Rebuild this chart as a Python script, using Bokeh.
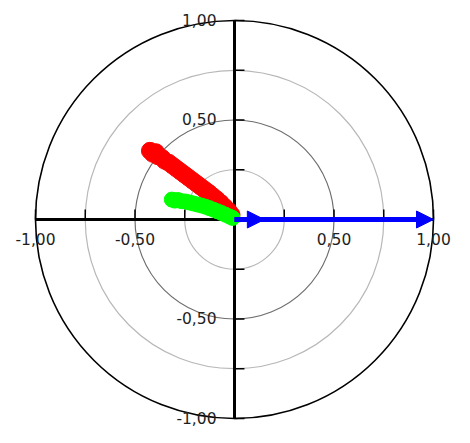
from bokeh.plotting import figure
from bokeh.models import Range1d, ColumnDataSource, Arrow, NormalHead
from bokeh.core.properties import value
from bokeh.embed import file_html
from bokeh.resources import INLINE

# ---- data ----
ring_radii = [0.25, 0.5, 0.75, 1.0]
ring_colors = ["#b8b8b8", "#6e6e6e", "#b8b8b8", "#000000"]
ring_widths = [1.2, 1.2, 1.2, 1.6]

tick_vals = [-1.0, -0.75, -0.5, -0.25, 0.25, 0.5, 0.75, 1.0]
label_vals = [-1.0, -0.5, 0.5, 1.0]
label_text = ["-1,00", "-0,50", "0,50", "1,00"]

red_x = [-0.425, -0.410, -0.395, -0.385, -0.365, -0.350, -0.330, -0.310, -0.290,
         -0.270, -0.250, -0.230, -0.210, -0.190, -0.170, -0.150, -0.130, -0.110,
         -0.090, -0.070, -0.050, -0.030, -0.015]
red_y = [0.345, 0.330, 0.338, 0.318, 0.310, 0.295, 0.285, 0.270, 0.255,
         0.240, 0.225, 0.210, 0.195, 0.180, 0.165, 0.150, 0.135, 0.118,
         0.102, 0.084, 0.064, 0.044, 0.024]

green_x = [-0.315, -0.300, -0.285, -0.265, -0.245, -0.225, -0.205, -0.185, -0.165,
           -0.145, -0.125, -0.105, -0.085, -0.065, -0.045, -0.025, -0.010]
green_y = [0.100, 0.095, 0.098, 0.092, 0.090, 0.085, 0.080, 0.075, 0.070,
           0.064, 0.057, 0.049, 0.041, 0.033, 0.024, 0.015, 0.008]

blue_len = [0.15, 1.0]

# ---- figure ----
R = 199.0
p = figure(width=454, height=427, output_backend="svg", toolbar_location=None,
           x_range=Range1d(-234 / R, 220 / R), y_range=Range1d(-208 / R, 219 / R),
           min_border=0)
p.axis.visible = False
p.grid.visible = False
p.outline_line_color = None
p.background_fill_color = "white"

# rings
for r, c, w in zip(ring_radii, ring_colors, ring_widths):
    p.circle(x=[0], y=[0], radius=r, fill_color=None, line_color=c, line_width=w)

# axes lines
p.segment(x0=[-1.0, 0.0], y0=[0.0, -1.0], x1=[1.0, 0.0], y1=[0.0, 1.0],
          line_color="black", line_width=3)
# ticks: y-axis ticks to the right, x-axis ticks upward
tl = 0.05
p.segment(x0=[0.0] * len(tick_vals), y0=tick_vals, x1=[tl] * len(tick_vals), y1=tick_vals,
          line_color="black", line_width=1.5)
p.segment(x0=tick_vals, y0=[0.0] * len(tick_vals), x1=tick_vals, y1=[tl] * len(tick_vals),
          line_color="black", line_width=1.5)

# tick labels
font = value("DejaVu Sans")
p.text(x=label_vals, y=[0.0] * len(label_vals), text=label_text,
       text_font=font, text_font_size="15.5px", text_color="#1e1e1e",
       text_align="center", text_baseline="alphabetic", y_offset=19)
p.text(x=[0.0] * len(label_vals), y=label_vals, text=label_text,
       text_font=font, text_font_size="15.5px", text_color="#1e1e1e",
       text_align="right", text_baseline="alphabetic", x_offset=-18, y_offset=-1)

# data
p.scatter(x=red_x, y=red_y, size=17, marker="circle", fill_color="#ff0000", line_color="#ff0000")
p.scatter(x=green_x, y=green_y, size=15, marker="circle", fill_color="#00ff00", line_color="#00ff00")

src = ColumnDataSource(dict(x0=[0.0] * len(blue_len), y0=[0.0] * len(blue_len),
                            x1=blue_len, y1=[0.0] * len(blue_len)))
p.add_layout(Arrow(end=NormalHead(size=17, fill_color="#0000ff", line_color="#0000ff"),
                   x_start="x0", y_start="y0", x_end="x1", y_end="y1", source=src,
                   line_color="#0000ff", line_width=5))

open("out.html", "w").write(file_html(p, INLINE))
